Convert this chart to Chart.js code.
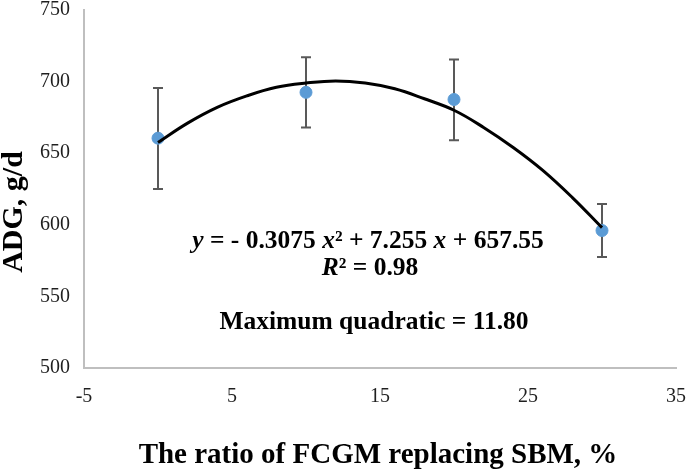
<!DOCTYPE html>
<html>
<head>
<meta charset="utf-8">
<script src="https://cdn.jsdelivr.net/npm/chart.js@4"></script>
<style>
  html, body { margin: 0; padding: 0; background: #fff; }
  #wrap { width: 688px; height: 473px; }
</style>
</head>
<body>
<div id="wrap"><canvas id="adgChart" width="688" height="473"></canvas></div>
<script>
// ratio of FCGM replacing SBM (%) and measured ADG (g/d)
const ratios = [0, 10, 20, 30];
const adgMean = [660.5, 692.5, 687.5, 596];
const adgLow = [625, 668, 659, 577.5];
const adgHigh = [695.5, 717, 715.5, 614.5];

// quadratic trend line
const trendX = [0, 2, 4, 6, 8, 10, 12, 14, 16, 18, 20, 22, 24, 26, 28, 30];
const trendY = [657.5, 671, 682, 690, 696, 699, 700.5, 699, 695, 688, 680, 668, 654, 638, 619, 598];

const xTicks = [-5, 5, 15, 25, 35];
const yTicks = [500, 550, 600, 650, 700, 750];

const serif = "'Liberation Serif', 'Times New Roman', serif";

/* =========================
   PLUGINS
========================= */

const errorBars = {
  id: "errorBars",
  beforeDatasetsDraw(chart) {
    const { ctx, scales: { x, y } } = chart;
    ctx.save();
    ctx.strokeStyle = "#595959";
    ctx.lineWidth = 2;
    ratios.forEach((r, i) => {
      const px = x.getPixelForValue(r);
      const top = y.getPixelForValue(adgHigh[i]);
      const bot = y.getPixelForValue(adgLow[i]);
      ctx.beginPath();
      ctx.moveTo(px, top); ctx.lineTo(px, bot);
      ctx.moveTo(px - 5, top); ctx.lineTo(px + 5, top);
      ctx.moveTo(px - 5, bot); ctx.lineTo(px + 5, bot);
      ctx.stroke();
    });
    ctx.restore();
  }
};

// draws a run of [text, italic] pieces centred on cx
function drawRun(ctx, parts, cx, y, size) {
  const fontOf = it => (it ? "italic " : "") + "bold " + size + "px " + serif;
  let w = 0;
  parts.forEach(([txt, it]) => { ctx.font = fontOf(it); w += ctx.measureText(txt).width; });
  let x = cx - w / 2;
  parts.forEach(([txt, it]) => {
    ctx.font = fontOf(it);
    ctx.fillText(txt, x, y);
    x += ctx.measureText(txt).width;
  });
}

const notes = {
  id: "notes",
  afterDraw(chart) {
    const { ctx } = chart;
    ctx.save();
    ctx.fillStyle = "#000";
    ctx.textBaseline = "middle";
    ctx.textAlign = "left";
    drawRun(ctx, [
      ["y", true], [" = - 0.3075 ", false], ["x", true], ["\u00b2 + 7.255 ", false],
      ["x", true], [" + 657.55", false]
    ], 368, 241, 25.5);
    drawRun(ctx, [["R", true], ["\u00b2 = 0.98", false]], 370, 268, 25.5);
    drawRun(ctx, [["Maximum quadratic = 11.80", false]], 374, 322, 25.5);

    // axis titles
    ctx.textAlign = "center";
    ctx.font = "bold 29px " + serif;
    ctx.fillText("The ratio of FCGM replacing SBM, %", 378, 456);
    ctx.translate(14, 212);
    ctx.rotate(-Math.PI / 2);
    ctx.font = "bold 30px " + serif;
    ctx.fillText("ADG, g/d", 0, 0);
    ctx.restore();
  }
};

/* =========================
   CHART
========================= */

new Chart(document.getElementById("adgChart"), {
  type: "scatter",
  data: {
    datasets: [
      {
        type: "line",
        data: trendX.map((v, i) => ({ x: v, y: trendY[i] })),
        borderColor: "#000",
        borderWidth: 3,
        pointRadius: 0,
        tension: 0.4,
        fill: false
      },
      {
        data: ratios.map((v, i) => ({ x: v, y: adgMean[i] })),
        backgroundColor: "#5b9bd5",
        borderColor: "#5b9bd5",
        pointRadius: 6
      }
    ]
  },
  options: {
    responsive: false,
    animation: false,
    layout: { padding: { top: 10, right: 12, left: 0, bottom: 0 } },
    plugins: { legend: { display: false }, tooltip: { enabled: false } },
    scales: {
      x: {
        type: "linear",
        min: -5, max: 35,
        afterBuildTicks: s => { s.ticks = xTicks.map(v => ({ value: v })); },
        afterFit: s => { s.height = 105; s.paddingLeft = 0; s.paddingRight = 0; },
        grid: { display: false, drawTicks: false },
        border: { color: "#bfbfbf", width: 2 },
        ticks: { padding: 17, color: "#1f1f1f", font: { family: serif, size: 20 } }
      },
      y: {
        min: 500, max: 750,
        afterBuildTicks: s => { s.ticks = yTicks.map(v => ({ value: v })); },
        afterFit: s => { s.width = 84; s.paddingTop = 0; s.paddingBottom = 0; },
        grid: { display: false, drawTicks: false },
        border: { color: "#bfbfbf", width: 2 },
        ticks: { padding: 14, color: "#1f1f1f", font: { family: serif, size: 20 } }
      }
    }
  },
  plugins: [errorBars, notes]
});
</script>
</body>
</html>
